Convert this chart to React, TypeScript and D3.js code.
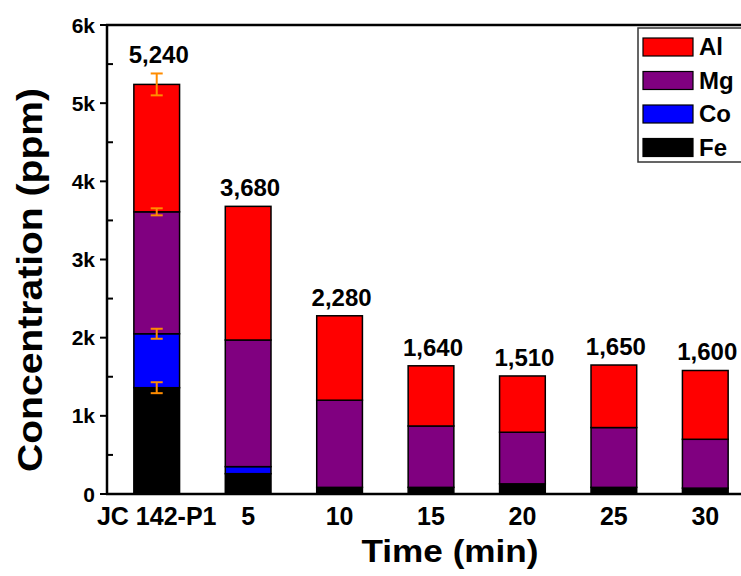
import React from 'react';
import * as d3 from 'd3';

const categories = ['JC 142-P1', '5', '10', '15', '20', '25', '30'];
const fe = [1360, 260, 85, 85, 130, 85, 75];
const co = [690, 90, 0, 0, 0, 0, 0];
const mg = [1560, 1620, 1115, 785, 660, 765, 625];
const al = [1630, 1710, 1080, 770, 720, 800, 880];
const totalLabels = ['5,240', '3,680', '2,280', '1,640', '1,510', '1,650', '1,600'];
// error bars only on the first sample, one per element (Fe, Co, Mg, Al)
const firstErrors = [70, 64, 45, 140];
const yTicks = [0, 1000, 2000, 3000, 4000, 5000, 6000];
const yTickLabels = ['0', '1k', '2k', '3k', '4k', '5k', '6k'];
const minorTicks = [500, 1500, 2500, 3500, 4500, 5500];

const keys = ['Fe', 'Co', 'Mg', 'Al'];
const colors: Record<string, string> = { Fe: '#000000', Co: '#0000ff', Mg: '#800080', Al: '#ff0000' };
const legendOrder = ['Al', 'Mg', 'Co', 'Fe'];

const W = 741;
const H = 576;
const axisX = 107;
const font = 'Arial, "Liberation Sans", sans-serif';

export default function App() {
  const rows = categories.map((c, i) => ({ cat: c, Fe: fe[i], Co: co[i], Mg: mg[i], Al: al[i] }));
  const series = d3.stack<any>().keys(keys)(rows);

  const x = d3.scaleBand().domain(categories).range([111, 751]).paddingInner(0.5).paddingOuter(0.25);
  const y = d3.scaleLinear().domain([0, 6000]).range([494, 25]);

  const firstTops = series.map(s => s[0][1]);
  const barTop = (i: number) => {
    const top = y(series[series.length - 1][i][1]);
    if (i === 0) return Math.min(top, y(firstTops[3] + firstErrors[3]));
    return top;
  };

  return (
    <svg width={W} height={H} style={{ position: 'absolute', left: 0, top: 0, background: '#fff' }} fontFamily={font}>
      {/* bars */}
      {series.map(s => (
        <g key={s.key} fill={colors[s.key]}>
          {s.map((d, i) => d[1] - d[0] > 0 && (
            <rect key={i} x={x(categories[i])} width={x.bandwidth()} y={y(d[1])} height={y(d[0]) - y(d[1])}
              stroke="#000" strokeWidth={1.5} />
          ))}
        </g>
      ))}

      {/* error bars on first sample */}
      {firstTops.map((t, k) => {
        const cx = x(categories[0])! + x.bandwidth() / 2;
        const y0 = y(t - firstErrors[k]);
        const y1 = y(t + firstErrors[k]);
        return (
          <g key={k} stroke="#ff8c00" strokeWidth={2}>
            <line x1={cx} x2={cx} y1={y0} y2={y1} />
            <line x1={cx - 6} x2={cx + 6} y1={y0} y2={y0} />
            <line x1={cx - 6} x2={cx + 6} y1={y1} y2={y1} />
          </g>
        );
      })}

      {/* total labels */}
      {totalLabels.map((t, i) => (
        <text key={i} x={x(categories[i])! + x.bandwidth() / 2 + 2} y={barTop(i) - 10} textAnchor="middle"
          fontSize={24} fontWeight="bold">{t}</text>
      ))}

      {/* frame */}
      <line x1={axisX} x2={axisX} y1={y(6000)} y2={y(0)} stroke="#000" strokeWidth={2.5} />
      <line x1={axisX - 1} x2={760} y1={y(0)} y2={y(0)} stroke="#000" strokeWidth={2.5} />
      <line x1={axisX - 1} x2={760} y1={y(6000)} y2={y(6000)} stroke="#000" strokeWidth={2.5} />

      {/* y ticks */}
      {yTicks.map((t, i) => (
        <g key={t}>
          <line x1={axisX - 7} x2={axisX} y1={y(t)} y2={y(t)} stroke="#000" strokeWidth={2} />
          <text x={axisX - 12} y={y(t)} dy="0.36em" textAnchor="end" fontSize={21} fontWeight="bold">{yTickLabels[i]}</text>
        </g>
      ))}
      {minorTicks.map(t => (
        <line key={t} x1={axisX} x2={axisX + 6} y1={y(t)} y2={y(t)} stroke="#000" strokeWidth={2} />
      ))}

      {/* x tick labels */}
      {categories.map(c => (
        <text key={c} x={x(c)! + x.bandwidth() / 2} y={525} textAnchor="middle" fontSize={25} fontWeight="bold">{c}</text>
      ))}

      {/* axis titles */}
      <text x={450} y={562} textAnchor="middle" fontSize={31} fontWeight="bold"
        textLength={177} lengthAdjust="spacingAndGlyphs">Time (min)</text>
      <text transform={`translate(42,280) rotate(-90)`} textAnchor="middle" fontSize={35} fontWeight="bold"
        textLength={384} lengthAdjust="spacingAndGlyphs">Concentration (ppm)</text>

      {/* legend */}
      <rect x={638} y={28} width={112} height={134} fill="#fff" stroke="#333" strokeWidth={1.5} />
      {legendOrder.map((k, i) => (
        <g key={k} transform={`translate(643,${38 + i * 33.5})`}>
          <rect width={50} height={18} fill={colors[k]} stroke="#000" strokeWidth={1.2} />
          <text x={56} y={17} fontSize={24} fontWeight="bold">{k}</text>
        </g>
      ))}
    </svg>
  );
}
